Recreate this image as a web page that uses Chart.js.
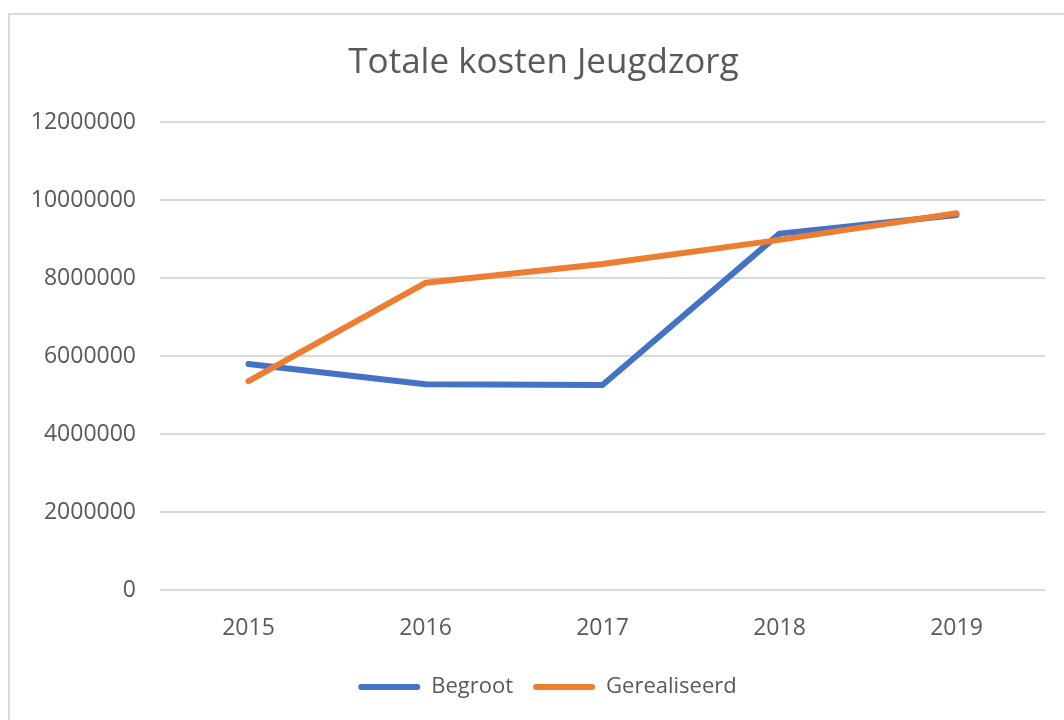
<!DOCTYPE html>
<html>
<head>
<meta charset="utf-8">
<script src="https://cdn.jsdelivr.net/npm/chart.js@4.4.1/dist/chart.umd.min.js"></script>
<style>
  html, body { margin: 0; padding: 0; background: #ffffff; }
  #frame { position: absolute; left: 8px; top: 13px; width: 1100px; height: 800px;
           border-left: 2px solid #d9d9d9; border-top: 2px solid #d9d9d9; box-sizing: border-box; }
  #wrap { position: absolute; left: 0; top: 0; width: 1064px; height: 720px; }
</style>
</head>
<body>
<div id="frame"></div>
<div id="wrap"><canvas id="c" width="1064" height="720"></canvas></div>
<script>
const categories = ['2015', '2016', '2017', '2018', '2019'];
const begroot = [5800000, 5280000, 5260000, 9140000, 9620000];
const gerealiseerd = [5360000, 7880000, 8360000, 8980000, 9660000];
const yTicks = [0, 2000000, 4000000, 6000000, 8000000, 10000000, 12000000];

const textColor = '#595959';
const font = "'Open Sans', 'Noto Sans', sans-serif";

// shifts title and legend boxes so they are centred like the original
const boxShift = {
  id: 'boxShift',
  afterLayout(chart) {
    if (chart.titleBlock) { chart.titleBlock.left += 42; }
    if (chart.legend) {
      chart.legend.left += 50;
      chart.legend.top -= 10;
      chart.legend.bottom -= 10;
    }
  }
};

new Chart(document.getElementById('c'), {
  type: 'line',
  data: {
    labels: categories,
    datasets: [
      { label: 'Begroot', data: begroot, borderColor: '#4472C4', backgroundColor: '#4472C4',
        borderWidth: 6, pointRadius: 0, borderCapStyle: 'round', borderJoinStyle: 'round', tension: 0, order: 2 },
      { label: 'Gerealiseerd', data: gerealiseerd, borderColor: '#ED7D31', backgroundColor: '#ED7D31',
        borderWidth: 6, pointRadius: 0, borderCapStyle: 'round', borderJoinStyle: 'round', tension: 0, order: 1 }
    ]
  },
  plugins: [boxShift],
  options: {
    responsive: false,
    animation: false,
    layout: { padding: { left: 0, right: 19, top: 0, bottom: 2 } },
    plugins: {
      title: { display: true, text: 'Totale kosten Jeugdzorg', color: textColor,
               font: { family: font, size: 35, weight: 'normal' }, padding: { top: 42, bottom: 38 } },
      legend: { position: 'bottom',
        labels: { color: textColor, font: { family: font, size: 22 }, boxWidth: 62, boxHeight: 6,
                  padding: 20, useBorderRadius: true, borderRadius: 3,
                  sort: (a, b) => a.datasetIndex - b.datasetIndex,
                  generateLabels: (chart) => Chart.defaults.plugins.legend.labels.generateLabels(chart)
                    .map(l => Object.assign(l, { lineWidth: 0 })) } },
      tooltip: { enabled: false }
    },
    scales: {
      x: {
        offset: true,
        grid: { display: false, drawTicks: false },
        border: { display: false },
        ticks: { color: textColor, font: { family: font, size: 23 }, padding: 24 }
      },
      y: {
        min: 0, max: 12000000,
        afterBuildTicks: (axis) => { axis.ticks = yTicks.map(v => ({ value: v })); },
        afterFit: (axis) => { axis.width = 160; },
        grid: { color: '#d9d9d9', lineWidth: 2, drawTicks: false },
        border: { display: false },
        ticks: { color: textColor, font: { family: font, size: 23 }, padding: 24,
                 callback: (v) => String(v) }
      }
    }
  }
});
</script>
</body>
</html>
